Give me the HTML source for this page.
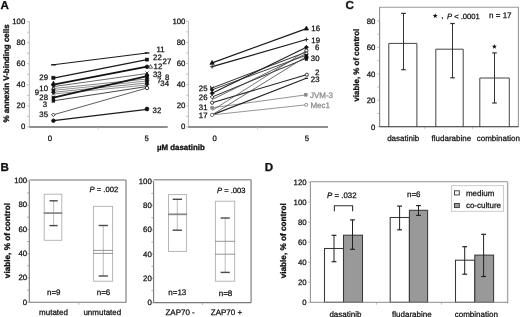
<!DOCTYPE html><html><head><meta charset="utf-8"><style>html,body{margin:0;padding:0;background:#fff;overflow:hidden;width:520px;height:317px;}svg{display:block;} text{font-family:"Liberation Sans",sans-serif;} svg{will-change:transform;} text{text-rendering:geometricPrecision;}</style></head><body>
<svg width="520" height="317" viewBox="0 0 520 317">
<rect x="0" y="0" width="520" height="317" fill="#fff"/>
<text x="0.5" y="9.4" font-size="11.6" font-weight="bold" fill="#111" stroke="#111" stroke-width="0.3">A</text>
<text x="345.4" y="9.4" font-size="11.6" font-weight="bold" fill="#111" stroke="#111" stroke-width="0.3">C</text>
<text x="0.6" y="171.4" font-size="11.6" font-weight="bold" fill="#111" stroke="#111" stroke-width="0.3">B</text>
<text x="264.7" y="171.4" font-size="11.6" font-weight="bold" fill="#111" stroke="#111" stroke-width="0.3">D</text>
<text transform="translate(8.86,73.40) rotate(-90)" x="0" y="0" font-size="8.0" text-anchor="middle" font-weight="bold" fill="#111" stroke="#111" stroke-width="0.3">% annexin V-binding cells</text>
<line x1="29.30" y1="21.70" x2="29.30" y2="126.90" stroke="#b0b0b0" stroke-width="0.9" />
<line x1="27.10" y1="126.90" x2="29.30" y2="126.90" stroke="#b0b0b0" stroke-width="0.8" />
<text x="25.30" y="129.29" font-size="7.8" text-anchor="end" fill="#111" stroke="#111" stroke-width="0.25" font-weight="normal" font-style="normal" >0</text>
<line x1="27.10" y1="116.38" x2="29.30" y2="116.38" stroke="#b0b0b0" stroke-width="0.8" />
<line x1="27.10" y1="105.86" x2="29.30" y2="105.86" stroke="#b0b0b0" stroke-width="0.8" />
<text x="25.30" y="108.25" font-size="7.8" text-anchor="end" fill="#111" stroke="#111" stroke-width="0.25" font-weight="normal" font-style="normal" >20</text>
<line x1="27.10" y1="95.34" x2="29.30" y2="95.34" stroke="#b0b0b0" stroke-width="0.8" />
<line x1="27.10" y1="84.82" x2="29.30" y2="84.82" stroke="#b0b0b0" stroke-width="0.8" />
<text x="25.30" y="87.21" font-size="7.8" text-anchor="end" fill="#111" stroke="#111" stroke-width="0.25" font-weight="normal" font-style="normal" >40</text>
<line x1="27.10" y1="74.30" x2="29.30" y2="74.30" stroke="#b0b0b0" stroke-width="0.8" />
<line x1="27.10" y1="63.78" x2="29.30" y2="63.78" stroke="#b0b0b0" stroke-width="0.8" />
<text x="25.30" y="66.17" font-size="7.8" text-anchor="end" fill="#111" stroke="#111" stroke-width="0.25" font-weight="normal" font-style="normal" >60</text>
<line x1="27.10" y1="53.26" x2="29.30" y2="53.26" stroke="#b0b0b0" stroke-width="0.8" />
<line x1="27.10" y1="42.74" x2="29.30" y2="42.74" stroke="#b0b0b0" stroke-width="0.8" />
<text x="25.30" y="45.13" font-size="7.8" text-anchor="end" fill="#111" stroke="#111" stroke-width="0.25" font-weight="normal" font-style="normal" >80</text>
<line x1="27.10" y1="32.22" x2="29.30" y2="32.22" stroke="#b0b0b0" stroke-width="0.8" />
<line x1="27.10" y1="21.70" x2="29.30" y2="21.70" stroke="#b0b0b0" stroke-width="0.8" />
<text x="25.30" y="24.09" font-size="7.8" text-anchor="end" fill="#111" stroke="#111" stroke-width="0.25" font-weight="normal" font-style="normal" >100</text>
<line x1="29.30" y1="127.00" x2="167.70" y2="127.00" stroke="#6a6a6a" stroke-width="1.5" />
<line x1="98.00" y1="127.50" x2="98.00" y2="130.00" stroke="#d0d0d0" stroke-width="0.8" />
<text x="49.80" y="140.99" font-size="7.8" text-anchor="middle" fill="#111" stroke="#111" stroke-width="0.25" font-weight="normal" font-style="normal" >0</text>
<text x="146.60" y="141.19" font-size="7.8" text-anchor="middle" fill="#111" stroke="#111" stroke-width="0.25" font-weight="normal" font-style="normal" >5</text>
<text x="156.9" y="149.6" font-size="7.9" font-weight="bold" fill="#111" stroke="#111" stroke-width="0.3">µM dasatinib</text>
<line x1="53.40" y1="64.80" x2="147.00" y2="53.00" stroke="#1a1a1a" stroke-width="1.1" />
<line x1="53.40" y1="78.20" x2="147.00" y2="59.60" stroke="#1a1a1a" stroke-width="1.3" />
<line x1="53.40" y1="84.60" x2="147.00" y2="66.60" stroke="#111" stroke-width="1.8" />
<line x1="53.40" y1="86.60" x2="147.00" y2="73.50" stroke="#444" stroke-width="0.8" />
<line x1="53.40" y1="88.50" x2="147.00" y2="79.00" stroke="#555" stroke-width="0.7" />
<line x1="53.40" y1="90.40" x2="147.00" y2="81.00" stroke="#666" stroke-width="0.7" />
<line x1="53.40" y1="92.30" x2="147.00" y2="83.00" stroke="#555" stroke-width="0.7" />
<line x1="53.40" y1="94.00" x2="147.00" y2="85.00" stroke="#666" stroke-width="0.7" />
<line x1="53.40" y1="97.60" x2="147.00" y2="76.20" stroke="#151515" stroke-width="1.7" />
<line x1="53.40" y1="100.80" x2="147.00" y2="86.50" stroke="#333" stroke-width="0.9" />
<line x1="53.40" y1="114.80" x2="147.00" y2="88.00" stroke="#333" stroke-width="0.8" />
<line x1="53.40" y1="120.70" x2="147.00" y2="109.40" stroke="#1a1a1a" stroke-width="1.2" />
<line x1="51.10" y1="64.80" x2="55.70" y2="64.80" stroke="#111" stroke-width="1.4" />
<rect x="51.80" y="76.20" width="3.2" height="3.2" fill="#111" stroke="#111" stroke-width="0.6"/>
<path d="M53.40 81.20 L55.40 84.80 L51.40 84.80 Z" fill="#111" stroke="#111" stroke-width="0.7"/>
<circle cx="53.40" cy="85.00" r="1.6" fill="#111" stroke="#111" stroke-width="0.8"/>
<line x1="51.90" y1="85.30" x2="54.90" y2="88.30" stroke="#222" stroke-width="0.9" />
<line x1="51.90" y1="88.30" x2="54.90" y2="85.30" stroke="#222" stroke-width="0.9" />
<path d="M53.40 86.80 L55.20 90.04 L51.60 90.04 Z" fill="#fff" stroke="#111" stroke-width="0.7"/>
<rect x="52.10" y="89.10" width="2.6" height="2.6" fill="#111" stroke="#111" stroke-width="0.6"/>
<path d="M53.40 90.50 L55.20 92.30 L53.40 94.10 L51.60 92.30 Z" fill="#111" stroke="#111" stroke-width="0.8"/>
<line x1="51.90" y1="92.50" x2="54.90" y2="95.50" stroke="#222" stroke-width="0.9" />
<line x1="51.90" y1="95.50" x2="54.90" y2="92.50" stroke="#222" stroke-width="0.9" />
<rect x="52.00" y="96.40" width="2.8" height="2.8" fill="#111" stroke="#111" stroke-width="0.6"/>
<rect x="52.00" y="99.40" width="2.8" height="2.8" fill="#111" stroke="#111" stroke-width="0.6"/>
<path d="M53.40 113.00 L55.20 114.80 L53.40 116.60 L51.60 114.80 Z" fill="#fff" stroke="#222" stroke-width="0.9"/>
<circle cx="53.40" cy="120.70" r="1.8" fill="#111" stroke="#111" stroke-width="0.8"/>
<line x1="144.70" y1="53.00" x2="149.30" y2="53.00" stroke="#111" stroke-width="1.4" />
<rect x="145.50" y="58.10" width="3.0" height="3.0" fill="#111" stroke="#111" stroke-width="0.6"/>
<circle cx="147.00" cy="66.80" r="1.8" fill="#111" stroke="#111" stroke-width="0.8"/>
<path d="M150.60 64.60 L152.60 68.20 L148.60 68.20 Z" fill="#fff" stroke="#222" stroke-width="0.7"/>
<line x1="145.50" y1="71.50" x2="148.50" y2="74.50" stroke="#222" stroke-width="0.9" />
<line x1="145.50" y1="74.50" x2="148.50" y2="71.50" stroke="#222" stroke-width="0.9" />
<circle cx="147.00" cy="75.30" r="1.7" fill="#111" stroke="#111" stroke-width="0.8"/>
<rect x="145.70" y="75.30" width="2.6" height="2.6" fill="#111" stroke="#111" stroke-width="0.6"/>
<path d="M147.00 76.60 L148.80 78.40 L147.00 80.20 L145.20 78.40 Z" fill="#111" stroke="#111" stroke-width="0.8"/>
<circle cx="147.00" cy="80.40" r="1.7" fill="#111" stroke="#111" stroke-width="0.8"/>
<rect x="145.70" y="81.20" width="2.6" height="2.6" fill="#111" stroke="#111" stroke-width="0.6"/>
<path d="M147.00 82.70 L148.80 84.50 L147.00 86.30 L145.20 84.50 Z" fill="#111" stroke="#111" stroke-width="0.8"/>
<circle cx="147.00" cy="88.00" r="1.7" fill="#fff" stroke="#222" stroke-width="0.9"/>
<circle cx="147.00" cy="109.00" r="1.9" fill="#111" stroke="#111" stroke-width="0.8"/>
<text x="156.50" y="52.09" font-size="7.8" text-anchor="start" fill="#111" stroke="#111" stroke-width="0.25" font-weight="normal" font-style="normal" >11</text>
<text x="153.10" y="60.19" font-size="7.8" text-anchor="start" fill="#111" stroke="#111" stroke-width="0.25" font-weight="normal" font-style="normal" >22</text>
<text x="162.60" y="63.99" font-size="7.8" text-anchor="start" fill="#111" stroke="#111" stroke-width="0.25" font-weight="normal" font-style="normal" >27</text>
<text x="153.60" y="68.59" font-size="7.8" text-anchor="start" fill="#111" stroke="#111" stroke-width="0.25" font-weight="normal" font-style="normal" >12</text>
<text x="152.90" y="76.89" font-size="7.8" text-anchor="start" fill="#111" stroke="#111" stroke-width="0.25" font-weight="normal" font-style="normal" >33</text>
<text x="164.90" y="79.69" font-size="7.8" text-anchor="start" fill="#111" stroke="#111" stroke-width="0.25" font-weight="normal" font-style="normal" >8</text>
<text x="157.00" y="83.39" font-size="7.8" text-anchor="start" fill="#111" stroke="#111" stroke-width="0.25" font-weight="normal" font-style="normal" >7</text>
<text x="160.30" y="86.49" font-size="7.8" text-anchor="start" fill="#111" stroke="#111" stroke-width="0.25" font-weight="normal" font-style="normal" >34</text>
<text x="152.60" y="112.89" font-size="7.8" text-anchor="start" fill="#111" stroke="#111" stroke-width="0.25" font-weight="normal" font-style="normal" >32</text>
<text x="48.00" y="80.39" font-size="7.8" text-anchor="end" fill="#111" stroke="#111" stroke-width="0.25" font-weight="normal" font-style="normal" >29</text>
<text x="48.00" y="90.89" font-size="7.8" text-anchor="end" fill="#111" stroke="#111" stroke-width="0.25" font-weight="normal" font-style="normal" >10</text>
<text x="39.00" y="94.79" font-size="7.8" text-anchor="end" fill="#111" stroke="#111" stroke-width="0.25" font-weight="normal" font-style="normal" >9</text>
<text x="48.00" y="99.59" font-size="7.8" text-anchor="end" fill="#111" stroke="#111" stroke-width="0.25" font-weight="normal" font-style="normal" >28</text>
<text x="47.20" y="106.69" font-size="7.8" text-anchor="end" fill="#111" stroke="#111" stroke-width="0.25" font-weight="normal" font-style="normal" >3</text>
<text x="48.00" y="117.19" font-size="7.8" text-anchor="end" fill="#111" stroke="#111" stroke-width="0.25" font-weight="normal" font-style="normal" >35</text>
<line x1="188.40" y1="21.30" x2="188.40" y2="126.90" stroke="#b0b0b0" stroke-width="0.9" />
<line x1="186.20" y1="126.90" x2="188.40" y2="126.90" stroke="#b0b0b0" stroke-width="0.8" />
<text x="185.40" y="129.29" font-size="7.8" text-anchor="end" fill="#111" stroke="#111" stroke-width="0.25" font-weight="normal" font-style="normal" >0</text>
<line x1="186.20" y1="116.34" x2="188.40" y2="116.34" stroke="#b0b0b0" stroke-width="0.8" />
<line x1="186.20" y1="105.78" x2="188.40" y2="105.78" stroke="#b0b0b0" stroke-width="0.8" />
<text x="185.40" y="108.17" font-size="7.8" text-anchor="end" fill="#111" stroke="#111" stroke-width="0.25" font-weight="normal" font-style="normal" >20</text>
<line x1="186.20" y1="95.22" x2="188.40" y2="95.22" stroke="#b0b0b0" stroke-width="0.8" />
<line x1="186.20" y1="84.66" x2="188.40" y2="84.66" stroke="#b0b0b0" stroke-width="0.8" />
<text x="185.40" y="87.05" font-size="7.8" text-anchor="end" fill="#111" stroke="#111" stroke-width="0.25" font-weight="normal" font-style="normal" >40</text>
<line x1="186.20" y1="74.10" x2="188.40" y2="74.10" stroke="#b0b0b0" stroke-width="0.8" />
<line x1="186.20" y1="63.54" x2="188.40" y2="63.54" stroke="#b0b0b0" stroke-width="0.8" />
<text x="185.40" y="65.93" font-size="7.8" text-anchor="end" fill="#111" stroke="#111" stroke-width="0.25" font-weight="normal" font-style="normal" >60</text>
<line x1="186.20" y1="52.98" x2="188.40" y2="52.98" stroke="#b0b0b0" stroke-width="0.8" />
<line x1="186.20" y1="42.42" x2="188.40" y2="42.42" stroke="#b0b0b0" stroke-width="0.8" />
<text x="185.40" y="44.81" font-size="7.8" text-anchor="end" fill="#111" stroke="#111" stroke-width="0.25" font-weight="normal" font-style="normal" >80</text>
<line x1="186.20" y1="31.86" x2="188.40" y2="31.86" stroke="#b0b0b0" stroke-width="0.8" />
<line x1="186.20" y1="21.30" x2="188.40" y2="21.30" stroke="#b0b0b0" stroke-width="0.8" />
<text x="185.40" y="23.69" font-size="7.8" text-anchor="end" fill="#111" stroke="#111" stroke-width="0.25" font-weight="normal" font-style="normal" >100</text>
<line x1="188.20" y1="126.90" x2="328.00" y2="126.90" stroke="#6a6a6a" stroke-width="1.5" />
<line x1="257.50" y1="127.40" x2="257.50" y2="129.90" stroke="#d0d0d0" stroke-width="0.8" />
<text x="214.60" y="140.79" font-size="7.8" text-anchor="middle" fill="#111" stroke="#111" stroke-width="0.25" font-weight="normal" font-style="normal" >0</text>
<text x="306.90" y="140.79" font-size="7.8" text-anchor="middle" fill="#111" stroke="#111" stroke-width="0.25" font-weight="normal" font-style="normal" >5</text>
<line x1="212.10" y1="62.90" x2="306.40" y2="28.60" stroke="#1a1a1a" stroke-width="1.2" />
<line x1="212.10" y1="66.70" x2="306.40" y2="39.50" stroke="#1a1a1a" stroke-width="1.2" />
<line x1="212.10" y1="88.00" x2="306.40" y2="52.00" stroke="#333" stroke-width="1.0" />
<line x1="212.10" y1="89.80" x2="306.40" y2="55.20" stroke="#444" stroke-width="1.0" />
<line x1="212.10" y1="93.30" x2="306.40" y2="47.30" stroke="#222" stroke-width="1.1" />
<line x1="212.10" y1="97.00" x2="306.40" y2="58.20" stroke="#333" stroke-width="1.0" />
<line x1="212.10" y1="102.70" x2="306.40" y2="74.70" stroke="#222" stroke-width="1.1" />
<line x1="212.10" y1="107.80" x2="306.40" y2="94.80" stroke="#888" stroke-width="0.9" />
<line x1="212.10" y1="114.90" x2="306.40" y2="78.30" stroke="#222" stroke-width="1.2" />
<line x1="212.10" y1="114.90" x2="306.40" y2="104.80" stroke="#8a8a8a" stroke-width="0.9" />
<line x1="212.10" y1="114.90" x2="306.40" y2="56.50" stroke="#444" stroke-width="0.8" />
<line x1="212.10" y1="110.50" x2="306.40" y2="50.60" stroke="#555" stroke-width="0.8" />
<line x1="212.10" y1="99.50" x2="306.40" y2="53.60" stroke="#444" stroke-width="0.8" />
<path d="M212.10 60.40 L214.30 64.36 L209.90 64.36 Z" fill="#111" stroke="#111" stroke-width="0.7"/>
<line x1="210.10" y1="66.70" x2="214.10" y2="66.70" stroke="#222" stroke-width="0.9" />
<line x1="212.10" y1="64.70" x2="212.10" y2="68.70" stroke="#222" stroke-width="0.9" />
<line x1="210.50" y1="86.40" x2="213.70" y2="89.60" stroke="#222" stroke-width="0.9" />
<line x1="210.50" y1="89.60" x2="213.70" y2="86.40" stroke="#222" stroke-width="0.9" />
<line x1="210.60" y1="85.80" x2="210.60" y2="90.20" stroke="#222" stroke-width="0.8" />
<circle cx="212.10" cy="90.00" r="1.3" fill="#111" stroke="#111" stroke-width="0.8"/>
<path d="M212.10 91.30 L214.10 93.30 L212.10 95.30 L210.10 93.30 Z" fill="#111" stroke="#111" stroke-width="0.8"/>
<path d="M212.10 95.20 L213.90 97.00 L212.10 98.80 L210.30 97.00 Z" fill="#fff" stroke="#222" stroke-width="0.9"/>
<circle cx="212.10" cy="102.70" r="1.6" fill="#fff" stroke="#222" stroke-width="0.9"/>
<rect x="210.70" y="106.40" width="2.8" height="2.8" fill="#888" stroke="#888" stroke-width="0.6"/>
<circle cx="212.10" cy="114.90" r="1.7" fill="#fff" stroke="#555" stroke-width="0.8"/>
<path d="M306.40 26.10 L308.60 30.06 L304.20 30.06 Z" fill="#111" stroke="#111" stroke-width="0.7"/>
<line x1="304.40" y1="39.50" x2="308.40" y2="39.50" stroke="#222" stroke-width="0.9" />
<line x1="306.40" y1="37.50" x2="306.40" y2="41.50" stroke="#222" stroke-width="0.9" />
<path d="M306.40 45.30 L308.40 47.30 L306.40 49.30 L304.40 47.30 Z" fill="#111" stroke="#111" stroke-width="0.8"/>
<circle cx="306.40" cy="50.60" r="1.6" fill="#fff" stroke="#222" stroke-width="0.9"/>
<circle cx="306.40" cy="53.50" r="1.5" fill="#fff" stroke="#222" stroke-width="0.9"/>
<rect x="305.00" y="54.20" width="2.8" height="2.8" fill="#111" stroke="#111" stroke-width="0.6"/>
<circle cx="306.40" cy="57.50" r="1.8" fill="#111" stroke="#111" stroke-width="0.8"/>
<rect x="305.10" y="57.70" width="2.6" height="2.6" fill="#111" stroke="#111" stroke-width="0.6"/>
<circle cx="306.90" cy="74.70" r="1.6" fill="#fff" stroke="#222" stroke-width="0.9"/>
<line x1="304.80" y1="78.30" x2="308.00" y2="78.30" stroke="#222" stroke-width="1.3" />
<rect x="304.40" y="93.40" width="2.8" height="2.8" fill="#888" stroke="#888" stroke-width="0.6"/>
<circle cx="306.20" cy="104.80" r="1.5" fill="#fff" stroke="#777" stroke-width="0.8"/>
<text x="311.30" y="30.59" font-size="7.8" text-anchor="start" fill="#111" stroke="#111" stroke-width="0.25" font-weight="normal" font-style="normal" >16</text>
<text x="311.30" y="42.59" font-size="7.8" text-anchor="start" fill="#111" stroke="#111" stroke-width="0.25" font-weight="normal" font-style="normal" >19</text>
<text x="315.10" y="50.19" font-size="7.8" text-anchor="start" fill="#111" stroke="#111" stroke-width="0.25" font-weight="normal" font-style="normal" >6</text>
<text x="310.80" y="60.99" font-size="7.8" text-anchor="start" fill="#111" stroke="#111" stroke-width="0.25" font-weight="normal" font-style="normal" >30</text>
<text x="315.10" y="75.29" font-size="7.8" text-anchor="start" fill="#111" stroke="#111" stroke-width="0.25" font-weight="normal" font-style="normal" >2</text>
<text x="310.80" y="82.49" font-size="7.8" text-anchor="start" fill="#111" stroke="#111" stroke-width="0.25" font-weight="normal" font-style="normal" >23</text>
<text x="309.90" y="97.76" font-size="8.0" text-anchor="start" fill="#8a8a8a" stroke="#8a8a8a" stroke-width="0.25" font-weight="normal" font-style="normal" >JVM-3</text>
<text x="310.40" y="107.86" font-size="8.0" text-anchor="start" fill="#8a8a8a" stroke="#8a8a8a" stroke-width="0.25" font-weight="normal" font-style="normal" >Mec1</text>
<text x="207.50" y="91.19" font-size="7.8" text-anchor="end" fill="#111" stroke="#111" stroke-width="0.25" font-weight="normal" font-style="normal" >25</text>
<text x="207.50" y="100.19" font-size="7.8" text-anchor="end" fill="#111" stroke="#111" stroke-width="0.25" font-weight="normal" font-style="normal" >26</text>
<text x="207.50" y="110.19" font-size="7.8" text-anchor="end" fill="#111" stroke="#111" stroke-width="0.25" font-weight="normal" font-style="normal" >31</text>
<text x="207.50" y="117.79" font-size="7.8" text-anchor="end" fill="#111" stroke="#111" stroke-width="0.25" font-weight="normal" font-style="normal" >17</text>
<text transform="translate(359.45,65.20) rotate(-90)" x="0" y="0" font-size="7.95" text-anchor="middle" font-weight="bold" fill="#111" stroke="#111" stroke-width="0.3">viable, % of control</text>
<line x1="379.60" y1="21.00" x2="379.60" y2="126.70" stroke="#8a8a8a" stroke-width="1.0" />
<line x1="377.40" y1="126.70" x2="379.60" y2="126.70" stroke="#aaa" stroke-width="0.8" />
<text x="375.40" y="129.69" font-size="7.8" text-anchor="end" fill="#111" stroke="#111" stroke-width="0.25" font-weight="normal" font-style="normal" >0</text>
<line x1="377.40" y1="113.49" x2="379.60" y2="113.49" stroke="#aaa" stroke-width="0.8" />
<line x1="377.40" y1="100.28" x2="379.60" y2="100.28" stroke="#aaa" stroke-width="0.8" />
<text x="375.40" y="103.27" font-size="7.8" text-anchor="end" fill="#111" stroke="#111" stroke-width="0.25" font-weight="normal" font-style="normal" >20</text>
<line x1="377.40" y1="87.06" x2="379.60" y2="87.06" stroke="#aaa" stroke-width="0.8" />
<line x1="377.40" y1="73.85" x2="379.60" y2="73.85" stroke="#aaa" stroke-width="0.8" />
<text x="375.40" y="76.84" font-size="7.8" text-anchor="end" fill="#111" stroke="#111" stroke-width="0.25" font-weight="normal" font-style="normal" >40</text>
<line x1="377.40" y1="60.64" x2="379.60" y2="60.64" stroke="#aaa" stroke-width="0.8" />
<line x1="377.40" y1="47.42" x2="379.60" y2="47.42" stroke="#aaa" stroke-width="0.8" />
<text x="375.40" y="50.42" font-size="7.8" text-anchor="end" fill="#111" stroke="#111" stroke-width="0.25" font-weight="normal" font-style="normal" >60</text>
<line x1="377.40" y1="34.21" x2="379.60" y2="34.21" stroke="#aaa" stroke-width="0.8" />
<line x1="377.40" y1="21.00" x2="379.60" y2="21.00" stroke="#aaa" stroke-width="0.8" />
<text x="375.40" y="23.99" font-size="7.8" text-anchor="end" fill="#111" stroke="#111" stroke-width="0.25" font-weight="normal" font-style="normal" >80</text>
<line x1="379.60" y1="7.20" x2="379.60" y2="126.70" stroke="#8a8a8a" stroke-width="1.0" />
<line x1="379.10" y1="7.20" x2="518.90" y2="7.20" stroke="#999" stroke-width="1.1" />
<line x1="518.40" y1="7.20" x2="518.40" y2="127.00" stroke="#999" stroke-width="1.1" />
<line x1="424.80" y1="126.60" x2="424.80" y2="129.00" stroke="#bbb" stroke-width="0.8" />
<line x1="472.40" y1="126.60" x2="472.40" y2="129.00" stroke="#bbb" stroke-width="0.8" />
<path d="M388.80 126.70 L388.80 43.40 L416.90 43.40 L416.90 126.70" fill="#fff" stroke="#444" stroke-width="1.0"/>
<line x1="403.50" y1="13.40" x2="403.50" y2="69.70" stroke="#333" stroke-width="1.0" />
<line x1="401.20" y1="13.40" x2="405.80" y2="13.40" stroke="#333" stroke-width="1.2" />
<line x1="401.20" y1="69.70" x2="405.80" y2="69.70" stroke="#333" stroke-width="1.2" />
<path d="M435.80 126.70 L435.80 49.20 L463.20 49.20 L463.20 126.70" fill="#fff" stroke="#444" stroke-width="1.0"/>
<line x1="452.50" y1="23.50" x2="452.50" y2="77.80" stroke="#333" stroke-width="1.0" />
<line x1="450.20" y1="23.50" x2="454.80" y2="23.50" stroke="#333" stroke-width="1.2" />
<line x1="450.20" y1="77.80" x2="454.80" y2="77.80" stroke="#333" stroke-width="1.2" />
<path d="M479.80 126.70 L479.80 78.00 L509.30 78.00 L509.30 126.70" fill="#fff" stroke="#444" stroke-width="1.0"/>
<line x1="494.50" y1="52.90" x2="494.50" y2="103.00" stroke="#333" stroke-width="1.0" />
<line x1="492.20" y1="52.90" x2="496.80" y2="52.90" stroke="#333" stroke-width="1.2" />
<line x1="492.20" y1="103.00" x2="496.80" y2="103.00" stroke="#333" stroke-width="1.2" />
<line x1="379.60" y1="126.70" x2="518.40" y2="126.70" stroke="#2a2a2a" stroke-width="1.1" />
<polygon points="494.40,44.00 495.04,45.72 496.87,45.80 495.44,46.94 495.93,48.70 494.40,47.69 492.87,48.70 493.36,46.94 491.93,45.80 493.76,45.72" fill="#111"/>
<polygon points="435.20,13.30 435.84,15.02 437.67,15.10 436.24,16.24 436.73,18.00 435.20,16.99 433.67,18.00 434.16,16.24 432.73,15.10 434.56,15.02" fill="#111"/>
<text x="441.30" y="18.06" font-size="8.0" text-anchor="start" fill="#111" stroke="#111" stroke-width="0.25" font-weight="normal" font-style="normal" >,</text>
<text x="447.0" y="18.92" font-size="7.6" fill="#111" stroke="#111" stroke-width="0.25"><tspan font-style="italic">P</tspan> &lt; .0001</text>
<text x="489.1" y="18.46" font-size="8" fill="#111" stroke="#111" stroke-width="0.25">n = 17</text>
<text x="403.20" y="140.96" font-size="8.0" text-anchor="middle" fill="#111" stroke="#111" stroke-width="0.25" font-weight="normal" font-style="normal" >dasatinib</text>
<text x="451.40" y="141.06" font-size="8.0" text-anchor="middle" fill="#111" stroke="#111" stroke-width="0.25" font-weight="normal" font-style="normal" >fludarabine</text>
<text x="498.30" y="141.06" font-size="8.0" text-anchor="middle" fill="#111" stroke="#111" stroke-width="0.25" font-weight="normal" font-style="normal" >combination</text>
<text transform="translate(9.54,240.60) rotate(-90)" x="0" y="0" font-size="8.2" text-anchor="middle" font-weight="bold" fill="#111" stroke="#111" stroke-width="0.3">viable, % of control</text>
<line x1="29.30" y1="180.80" x2="29.30" y2="302.20" stroke="#777" stroke-width="1.1" />
<line x1="27.10" y1="302.20" x2="29.30" y2="302.20" stroke="#999" stroke-width="0.8" />
<text x="27.20" y="304.59" font-size="7.8" text-anchor="end" fill="#111" stroke="#111" stroke-width="0.25" font-weight="normal" font-style="normal" >0</text>
<line x1="27.10" y1="290.06" x2="29.30" y2="290.06" stroke="#999" stroke-width="0.8" />
<line x1="27.10" y1="277.92" x2="29.30" y2="277.92" stroke="#999" stroke-width="0.8" />
<text x="27.20" y="280.31" font-size="7.8" text-anchor="end" fill="#111" stroke="#111" stroke-width="0.25" font-weight="normal" font-style="normal" >20</text>
<line x1="27.10" y1="265.78" x2="29.30" y2="265.78" stroke="#999" stroke-width="0.8" />
<line x1="27.10" y1="253.64" x2="29.30" y2="253.64" stroke="#999" stroke-width="0.8" />
<text x="27.20" y="256.03" font-size="7.8" text-anchor="end" fill="#111" stroke="#111" stroke-width="0.25" font-weight="normal" font-style="normal" >40</text>
<line x1="27.10" y1="241.50" x2="29.30" y2="241.50" stroke="#999" stroke-width="0.8" />
<line x1="27.10" y1="229.36" x2="29.30" y2="229.36" stroke="#999" stroke-width="0.8" />
<text x="27.20" y="231.75" font-size="7.8" text-anchor="end" fill="#111" stroke="#111" stroke-width="0.25" font-weight="normal" font-style="normal" >60</text>
<line x1="27.10" y1="217.22" x2="29.30" y2="217.22" stroke="#999" stroke-width="0.8" />
<line x1="27.10" y1="205.08" x2="29.30" y2="205.08" stroke="#999" stroke-width="0.8" />
<text x="27.20" y="207.47" font-size="7.8" text-anchor="end" fill="#111" stroke="#111" stroke-width="0.25" font-weight="normal" font-style="normal" >80</text>
<line x1="27.10" y1="192.94" x2="29.30" y2="192.94" stroke="#999" stroke-width="0.8" />
<line x1="27.10" y1="180.80" x2="29.30" y2="180.80" stroke="#999" stroke-width="0.8" />
<text x="27.20" y="183.19" font-size="7.8" text-anchor="end" fill="#111" stroke="#111" stroke-width="0.25" font-weight="normal" font-style="normal" >100</text>
<line x1="29.30" y1="180.00" x2="126.00" y2="180.00" stroke="#a0a0a0" stroke-width="1.6" />
<line x1="126.00" y1="180.00" x2="126.00" y2="302.60" stroke="#a0a0a0" stroke-width="1.6" />
<line x1="29.30" y1="302.30" x2="126.00" y2="302.30" stroke="#777" stroke-width="1.1" />
<line x1="78.80" y1="302.30" x2="78.80" y2="304.80" stroke="#aaa" stroke-width="0.8" />
<rect x="44.20" y="194.20" width="17.60" height="46.10" stroke="#b0b0b0" fill="none" stroke-width="0.9"/>
<line x1="53.60" y1="200.80" x2="53.60" y2="225.60" stroke="#ababab" stroke-width="0.8" />
<line x1="43.70" y1="213.10" x2="62.30" y2="213.10" stroke="#8a8a8a" stroke-width="1.8" />
<line x1="49.50" y1="200.80" x2="57.70" y2="200.80" stroke="#4a4a4a" stroke-width="1.4" />
<line x1="49.50" y1="225.60" x2="57.70" y2="225.60" stroke="#4a4a4a" stroke-width="1.4" />
<rect x="93.60" y="206.30" width="19.00" height="74.90" stroke="#b0b0b0" fill="none" stroke-width="0.9"/>
<line x1="103.30" y1="225.50" x2="103.30" y2="276.00" stroke="#ababab" stroke-width="0.8" />
<line x1="93.10" y1="250.40" x2="113.10" y2="250.40" stroke="#8a8a8a" stroke-width="0.9" />
<line x1="93.10" y1="253.40" x2="113.10" y2="253.40" stroke="#8a8a8a" stroke-width="0.9" />
<line x1="98.70" y1="225.50" x2="107.90" y2="225.50" stroke="#4a4a4a" stroke-width="1.4" />
<line x1="98.70" y1="276.00" x2="107.90" y2="276.00" stroke="#4a4a4a" stroke-width="1.4" />
<text x="89.6" y="192.42" font-size="7.6" fill="#111" stroke="#111" stroke-width="0.25"><tspan font-style="italic">P</tspan> = .002</text>
<text x="53.80" y="294.66" font-size="8.0" text-anchor="middle" fill="#111" stroke="#111" stroke-width="0.25" font-weight="normal" font-style="normal" >n=9</text>
<text x="103.50" y="294.66" font-size="8.0" text-anchor="middle" fill="#111" stroke="#111" stroke-width="0.25" font-weight="normal" font-style="normal" >n=6</text>
<text x="53.50" y="315.16" font-size="8.0" text-anchor="middle" fill="#111" stroke="#111" stroke-width="0.25" font-weight="normal" font-style="normal" >mutated</text>
<text x="102.30" y="315.16" font-size="8.0" text-anchor="middle" fill="#111" stroke="#111" stroke-width="0.25" font-weight="normal" font-style="normal" >unmutated</text>
<line x1="153.60" y1="181.20" x2="153.60" y2="302.80" stroke="#777" stroke-width="1.1" />
<line x1="151.40" y1="302.80" x2="153.60" y2="302.80" stroke="#999" stroke-width="0.8" />
<text x="151.80" y="305.19" font-size="7.8" text-anchor="end" fill="#111" stroke="#111" stroke-width="0.25" font-weight="normal" font-style="normal" >0</text>
<line x1="151.40" y1="290.64" x2="153.60" y2="290.64" stroke="#999" stroke-width="0.8" />
<line x1="151.40" y1="278.48" x2="153.60" y2="278.48" stroke="#999" stroke-width="0.8" />
<text x="151.80" y="280.87" font-size="7.8" text-anchor="end" fill="#111" stroke="#111" stroke-width="0.25" font-weight="normal" font-style="normal" >20</text>
<line x1="151.40" y1="266.32" x2="153.60" y2="266.32" stroke="#999" stroke-width="0.8" />
<line x1="151.40" y1="254.16" x2="153.60" y2="254.16" stroke="#999" stroke-width="0.8" />
<text x="151.80" y="256.55" font-size="7.8" text-anchor="end" fill="#111" stroke="#111" stroke-width="0.25" font-weight="normal" font-style="normal" >40</text>
<line x1="151.40" y1="242.00" x2="153.60" y2="242.00" stroke="#999" stroke-width="0.8" />
<line x1="151.40" y1="229.84" x2="153.60" y2="229.84" stroke="#999" stroke-width="0.8" />
<text x="151.80" y="232.23" font-size="7.8" text-anchor="end" fill="#111" stroke="#111" stroke-width="0.25" font-weight="normal" font-style="normal" >60</text>
<line x1="151.40" y1="217.68" x2="153.60" y2="217.68" stroke="#999" stroke-width="0.8" />
<line x1="151.40" y1="205.52" x2="153.60" y2="205.52" stroke="#999" stroke-width="0.8" />
<text x="151.80" y="207.91" font-size="7.8" text-anchor="end" fill="#111" stroke="#111" stroke-width="0.25" font-weight="normal" font-style="normal" >80</text>
<line x1="151.40" y1="193.36" x2="153.60" y2="193.36" stroke="#999" stroke-width="0.8" />
<line x1="151.40" y1="181.20" x2="153.60" y2="181.20" stroke="#999" stroke-width="0.8" />
<text x="151.80" y="183.59" font-size="7.8" text-anchor="end" fill="#111" stroke="#111" stroke-width="0.25" font-weight="normal" font-style="normal" >100</text>
<line x1="153.60" y1="179.70" x2="251.10" y2="179.70" stroke="#a0a0a0" stroke-width="1.6" />
<line x1="251.10" y1="179.70" x2="251.10" y2="302.80" stroke="#a0a0a0" stroke-width="1.6" />
<line x1="153.60" y1="302.60" x2="251.10" y2="302.60" stroke="#777" stroke-width="1.1" />
<line x1="202.50" y1="302.60" x2="202.50" y2="305.00" stroke="#aaa" stroke-width="0.8" />
<rect x="168.50" y="194.60" width="18.10" height="56.80" stroke="#b0b0b0" fill="none" stroke-width="0.9"/>
<line x1="177.30" y1="199.30" x2="177.30" y2="230.20" stroke="#ababab" stroke-width="0.8" />
<line x1="168.00" y1="214.30" x2="187.10" y2="214.30" stroke="#8a8a8a" stroke-width="1.8" />
<line x1="172.60" y1="199.30" x2="182.00" y2="199.30" stroke="#4a4a4a" stroke-width="1.4" />
<line x1="172.60" y1="230.20" x2="182.00" y2="230.20" stroke="#4a4a4a" stroke-width="1.4" />
<rect x="215.40" y="201.20" width="19.30" height="80.00" stroke="#b0b0b0" fill="none" stroke-width="0.9"/>
<line x1="225.20" y1="218.00" x2="225.20" y2="272.40" stroke="#ababab" stroke-width="0.8" />
<line x1="214.90" y1="241.30" x2="235.20" y2="241.30" stroke="#8a8a8a" stroke-width="0.9" />
<line x1="214.90" y1="254.20" x2="235.20" y2="254.20" stroke="#8a8a8a" stroke-width="0.9" />
<line x1="220.60" y1="218.00" x2="229.80" y2="218.00" stroke="#4a4a4a" stroke-width="1.4" />
<line x1="220.60" y1="272.40" x2="229.80" y2="272.40" stroke="#4a4a4a" stroke-width="1.4" />
<text x="217.0" y="193.02" font-size="7.6" fill="#111" stroke="#111" stroke-width="0.25"><tspan font-style="italic">P</tspan> = .003</text>
<text x="177.30" y="295.46" font-size="8.0" text-anchor="middle" fill="#111" stroke="#111" stroke-width="0.25" font-weight="normal" font-style="normal" >n=13</text>
<text x="225.50" y="295.86" font-size="8.0" text-anchor="middle" fill="#111" stroke="#111" stroke-width="0.25" font-weight="normal" font-style="normal" >n=8</text>
<text x="180.10" y="315.36" font-size="8.0" text-anchor="middle" fill="#111" stroke="#111" stroke-width="0.25" font-weight="normal" font-style="normal" >ZAP70 -</text>
<text x="226.50" y="315.36" font-size="8.0" text-anchor="middle" fill="#111" stroke="#111" stroke-width="0.25" font-weight="normal" font-style="normal" >ZAP70 +</text>
<text transform="translate(285.74,240.80) rotate(-90)" x="0" y="0" font-size="8.2" text-anchor="middle" font-weight="bold" fill="#111" stroke="#111" stroke-width="0.3">viable, % of control</text>
<line x1="310.40" y1="182.00" x2="310.40" y2="302.30" stroke="#8a8a8a" stroke-width="1.0" />
<line x1="308.20" y1="302.30" x2="310.40" y2="302.30" stroke="#aaa" stroke-width="0.8" />
<text x="306.60" y="305.19" font-size="7.8" text-anchor="end" fill="#111" stroke="#111" stroke-width="0.25" font-weight="normal" font-style="normal" >0</text>
<line x1="308.20" y1="282.25" x2="310.40" y2="282.25" stroke="#aaa" stroke-width="0.8" />
<text x="306.60" y="285.14" font-size="7.8" text-anchor="end" fill="#111" stroke="#111" stroke-width="0.25" font-weight="normal" font-style="normal" >20</text>
<line x1="308.20" y1="262.20" x2="310.40" y2="262.20" stroke="#aaa" stroke-width="0.8" />
<text x="306.60" y="265.09" font-size="7.8" text-anchor="end" fill="#111" stroke="#111" stroke-width="0.25" font-weight="normal" font-style="normal" >40</text>
<line x1="308.20" y1="242.15" x2="310.40" y2="242.15" stroke="#aaa" stroke-width="0.8" />
<text x="306.60" y="245.04" font-size="7.8" text-anchor="end" fill="#111" stroke="#111" stroke-width="0.25" font-weight="normal" font-style="normal" >60</text>
<line x1="308.20" y1="222.10" x2="310.40" y2="222.10" stroke="#aaa" stroke-width="0.8" />
<text x="306.60" y="224.99" font-size="7.8" text-anchor="end" fill="#111" stroke="#111" stroke-width="0.25" font-weight="normal" font-style="normal" >80</text>
<line x1="308.20" y1="202.05" x2="310.40" y2="202.05" stroke="#aaa" stroke-width="0.8" />
<text x="306.60" y="204.94" font-size="7.8" text-anchor="end" fill="#111" stroke="#111" stroke-width="0.25" font-weight="normal" font-style="normal" >100</text>
<line x1="308.20" y1="182.00" x2="310.40" y2="182.00" stroke="#aaa" stroke-width="0.8" />
<text x="306.60" y="184.89" font-size="7.8" text-anchor="end" fill="#111" stroke="#111" stroke-width="0.25" font-weight="normal" font-style="normal" >120</text>
<line x1="310.40" y1="181.70" x2="507.60" y2="181.70" stroke="#a8a8a8" stroke-width="1.2" />
<line x1="507.60" y1="181.70" x2="507.60" y2="303.50" stroke="#a8a8a8" stroke-width="1.4" />
<line x1="376.50" y1="302.30" x2="376.50" y2="304.80" stroke="#bbb" stroke-width="0.8" />
<line x1="441.50" y1="302.30" x2="441.50" y2="304.80" stroke="#bbb" stroke-width="0.8" />
<rect x="324.50" y="248.50" width="19.00" height="53.80" fill="#fff" stroke="#383838" stroke-width="1.05"/>
<rect x="343.50" y="235.20" width="19.00" height="67.10" fill="#999" stroke="#383838" stroke-width="1.05"/>
<line x1="334.00" y1="235.30" x2="334.00" y2="261.70" stroke="#222" stroke-width="1.0" />
<line x1="331.60" y1="235.30" x2="336.40" y2="235.30" stroke="#222" stroke-width="1.2" />
<line x1="331.60" y1="261.70" x2="336.40" y2="261.70" stroke="#222" stroke-width="1.2" />
<line x1="352.50" y1="219.90" x2="352.50" y2="249.30" stroke="#222" stroke-width="1.0" />
<line x1="350.10" y1="219.90" x2="354.90" y2="219.90" stroke="#222" stroke-width="1.2" />
<line x1="350.10" y1="249.30" x2="354.90" y2="249.30" stroke="#222" stroke-width="1.2" />
<rect x="390.20" y="217.50" width="19.20" height="84.80" fill="#fff" stroke="#383838" stroke-width="1.05"/>
<rect x="409.40" y="210.30" width="18.20" height="92.00" fill="#999" stroke="#383838" stroke-width="1.05"/>
<line x1="399.60" y1="206.10" x2="399.60" y2="229.80" stroke="#222" stroke-width="1.0" />
<line x1="397.20" y1="206.10" x2="402.00" y2="206.10" stroke="#222" stroke-width="1.2" />
<line x1="397.20" y1="229.80" x2="402.00" y2="229.80" stroke="#222" stroke-width="1.2" />
<line x1="418.50" y1="205.60" x2="418.50" y2="215.40" stroke="#222" stroke-width="1.0" />
<line x1="416.10" y1="205.60" x2="420.90" y2="205.60" stroke="#222" stroke-width="1.2" />
<line x1="416.10" y1="215.40" x2="420.90" y2="215.40" stroke="#222" stroke-width="1.2" />
<rect x="455.50" y="260.20" width="19.30" height="42.10" fill="#fff" stroke="#383838" stroke-width="1.05"/>
<rect x="474.80" y="255.10" width="18.80" height="47.20" fill="#999" stroke="#383838" stroke-width="1.05"/>
<line x1="464.70" y1="246.70" x2="464.70" y2="274.20" stroke="#222" stroke-width="1.0" />
<line x1="462.30" y1="246.70" x2="467.10" y2="246.70" stroke="#222" stroke-width="1.2" />
<line x1="462.30" y1="274.20" x2="467.10" y2="274.20" stroke="#222" stroke-width="1.2" />
<line x1="483.60" y1="234.30" x2="483.60" y2="276.50" stroke="#222" stroke-width="1.0" />
<line x1="481.20" y1="234.30" x2="486.00" y2="234.30" stroke="#222" stroke-width="1.2" />
<line x1="481.20" y1="276.50" x2="486.00" y2="276.50" stroke="#222" stroke-width="1.2" />
<line x1="310.40" y1="302.30" x2="507.60" y2="302.30" stroke="#8a8a8a" stroke-width="1.0" />
<path d="M334.4 211.2 L334.4 205.7 L352.6 205.7 L352.6 211.2" fill="none" stroke="#333" stroke-width="1.1"/>
<text x="327.0" y="197.53" font-size="7.9" fill="#111" stroke="#111" stroke-width="0.25"><tspan font-style="italic">P</tspan> = .032</text>
<text x="413.80" y="196.76" font-size="8.0" text-anchor="middle" fill="#111" stroke="#111" stroke-width="0.25" font-weight="normal" font-style="normal" >n=6</text>
<rect x="451.40" y="185.70" width="52.20" height="25.60" stroke="#c0c0c0" fill="#fff" stroke-width="0.8"/>
<rect x="454.50" y="190.80" width="4.80" height="4.10" stroke="#333" fill="#fff" stroke-width="0.9"/>
<rect x="454.50" y="203.50" width="4.80" height="4.10" stroke="#333" fill="#9c9c9c" stroke-width="0.9"/>
<text x="465.90" y="195.56" font-size="8.0" text-anchor="start" fill="#111" stroke="#111" stroke-width="0.25" font-weight="normal" font-style="normal" >medium</text>
<text x="465.90" y="208.06" font-size="8.0" text-anchor="start" fill="#111" stroke="#111" stroke-width="0.25" font-weight="normal" font-style="normal" >co-culture</text>
<text x="345.40" y="317.26" font-size="8.0" text-anchor="middle" fill="#111" stroke="#111" stroke-width="0.25" font-weight="normal" font-style="normal" >dasatinib</text>
<text x="411.90" y="317.46" font-size="8.0" text-anchor="middle" fill="#111" stroke="#111" stroke-width="0.25" font-weight="normal" font-style="normal" >fludarabine</text>
<text x="476.30" y="317.26" font-size="8.0" text-anchor="middle" fill="#111" stroke="#111" stroke-width="0.25" font-weight="normal" font-style="normal" >combination</text>
</svg></body></html>
